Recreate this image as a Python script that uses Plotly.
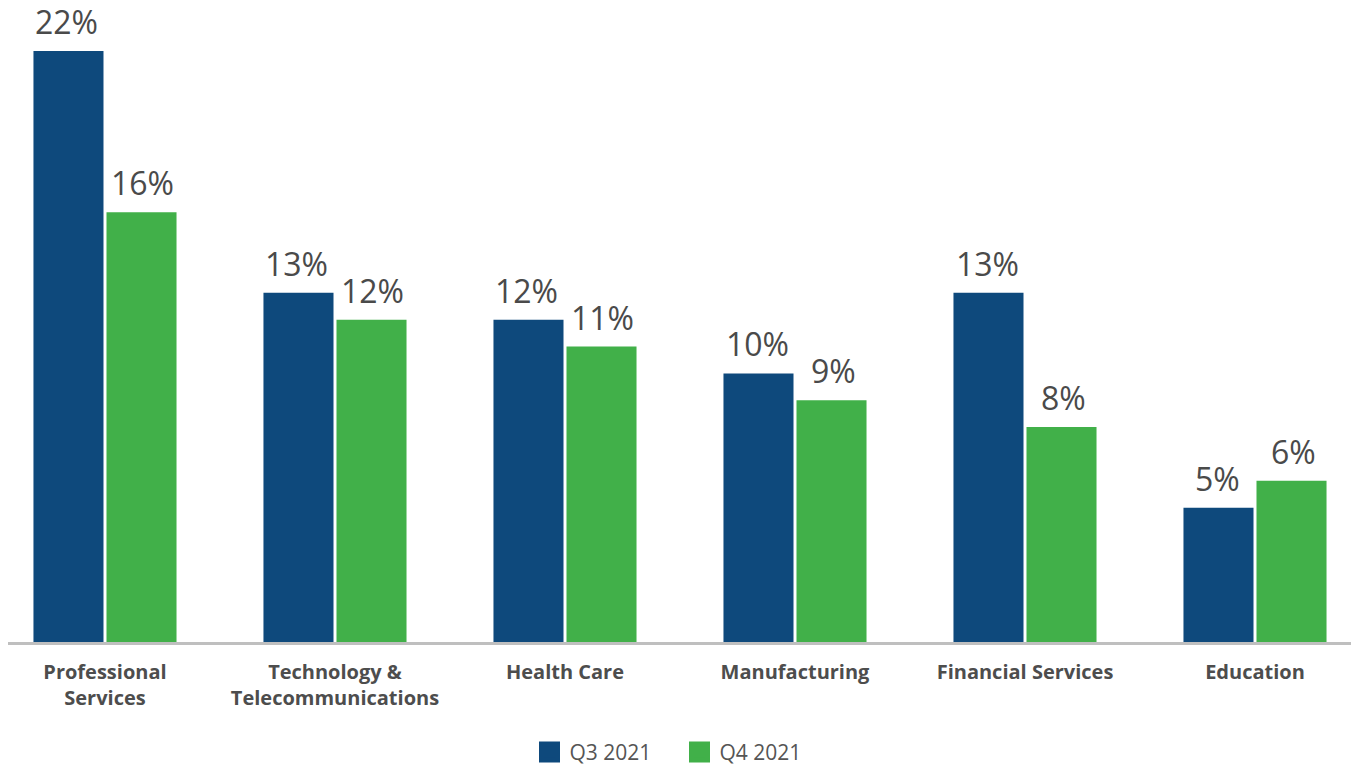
import plotly.graph_objects as go

categories = ["Professional<br>Services", "Technology &<br>Telecommunications", "Health Care",
              "Manufacturing", "Financial Services", "Education"]
q3_values = [22, 13, 12, 10, 13, 5]
q4_values = [16, 12, 11, 9, 8, 6]
series_names = ["Q3 2021", "Q4 2021"]
colors = ["#0E497C", "#41B049"]

fig = go.Figure()
for name, vals, col in zip(series_names, [q3_values, q4_values], colors):
    fig.add_trace(go.Bar(name=name, x=categories, y=vals, marker_color=col,
                         marker_line_width=0, hoverinfo="skip", showlegend=False))
# legend entries with larger square swatches
for name, col in zip(series_names, colors):
    fig.add_trace(go.Scatter(name=name, x=[None], y=[None], mode="markers",
                             marker=dict(symbol="square", size=16, color=col,
                                         line=dict(color=col, width=5)),
                             showlegend=True, hoverinfo="skip"))

annotations = []
for vals, shift in [(q3_values, -38), (q4_values, 38)]:
    for c, v in zip(categories, vals):
        annotations.append(dict(x=c, y=v, text=f"{v}%", showarrow=False, xshift=shift,
                                yanchor="bottom", yshift=6,
                                font=dict(family="Open Sans", size=32, color="#4a4a4a")))

fig.update_layout(
    width=1351, height=771,
    margin=dict(l=8, r=0, t=0, b=129, autoexpand=False),
    plot_bgcolor="white", paper_bgcolor="white",
    barmode="group", bargap=0.365, bargroupgap=0.041,
    annotations=annotations,
    xaxis=dict(range=[-0.4217, 5.4174], showline=True, linecolor="#bfbfbf", linewidth=2.5,
               tickfont=dict(family="Open Sans", size=20, color="#4d4d4d", weight="bold"),
               ticks="", ticklabelstandoff=10, fixedrange=True),
    yaxis=dict(range=[0, 23.9], visible=False, showgrid=False, fixedrange=True),
    legend=dict(orientation="h", x=0.5, xanchor="center", y=-0.172, yanchor="middle",
                font=dict(family="Open Sans", size=21, color="#555555"), itemwidth=30,
                entrywidth=105, entrywidthmode="pixels",
                traceorder="normal", itemsizing="trace"),
    showlegend=True,
)

fig.write_html("out.html")
